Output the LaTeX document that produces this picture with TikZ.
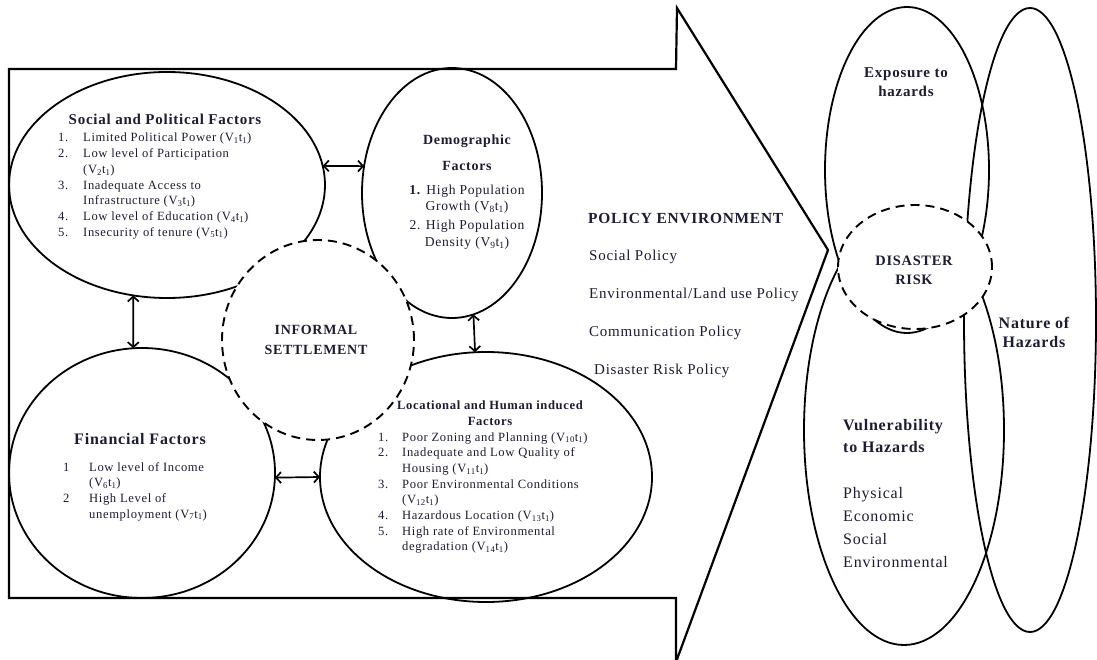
\documentclass[tikz,border=0pt]{standalone}
\usepackage{fontspec}
\setmainfont{Liberation Serif}
\newfontfamily\widefont[LetterSpace=5]{Liberation Serif}
\usetikzlibrary{shapes.geometric,arrows.meta,positioning}
\definecolor{ink}{RGB}{28,28,52}
\newcommand{\vt}[1]{(V\textsubscript{#1}t\textsubscript{1})}
\tikzset{
    factor/.style={draw, ellipse, line width=1.8pt, inner sep=0pt, outer sep=0pt},
    core/.style={draw, ellipse, line width=1.9pt, dash pattern=on 9pt off 6pt,
        fill=white, inner sep=0pt, outer sep=0pt},
    head/.style={text=ink, align=center, inner sep=0pt,
        font=\widefont\bfseries\fontsize{14}{16}\selectfont},
    items/.style={text=ink, anchor=base west, inner sep=0pt,
        font=\widefont\fontsize{12.6}{15.7}\selectfont},
    policy/.style={text=ink, anchor=west, inner sep=0pt,
        font=\widefont\fontsize{15}{17}\selectfont},
    link/.style={<->, line width=1.7pt}
}
\begin{document}
\begin{tikzpicture}[x=1pt, y=-1pt, >={Straight Barb[length=5pt,width=11pt]}]
    \clip (0,0) rectangle (1097,660);
    \fill[white] (0,0) rectangle (1097,660);

    % big arrow
    \draw[line width=2.2pt, line join=miter]
        (9,69) -- (676,69) -- (677,8) -- (828,250) -- (676,662)
        -- (676,598) -- (9,598) -- cycle;

    % right side
    \node[factor, minimum width=164pt, minimum height=326pt] (expo) at (907,170) {};
    \node[factor, minimum width=132pt, minimum height=624pt] (nat) at (1030,320) {};
    \node[factor, minimum width=200pt, minimum height=430pt] (vuln) at (904,430) {};
    \node[core, minimum width=154pt, minimum height=124pt] (risk) at (915,267) {};

    % left side
    \node[factor, minimum width=316pt, minimum height=226pt] (soc) at (167,185) {};
    \node[factor, minimum width=180pt, minimum height=250pt] (dem) at (452,193) {};
    \node[factor, minimum width=266pt, minimum height=250pt] (fin) at (142,473) {};
    \node[factor, minimum width=332pt, minimum height=250pt] (loc) at (486,477) {};
    \node[core, minimum width=192pt, minimum height=200pt] (inf) at (318,340) {};

    \draw[link] (soc.7) -- (dem.163);
    \draw[link] (soc.253) -- (fin.94);
    \draw[link] (dem.280) -- (loc.95);
    \draw[link] (fin.-2) -- (loc.180);

    % texts
    \node[head, font=\widefont\bfseries\fontsize{15}{17}\selectfont] (socT) at (165,119)
        {Social and Political Factors};
    \node[items] (socL) at (58,142) {\begin{tabular}[t]{@{}p{25pt}@{}l@{}}
        1. & Limited Political Power \vt{1}\\
        2. & Low level of Participation\\
           & \vt{2}\\
        3. & Inadequate Access to\\
           & Infrastructure \vt{3}\\
        4. & Low level of Education \vt{4}\\
        5. & Insecurity of tenure \vt{5}
    \end{tabular}};

    \node[head] (demT) at (467,153) {Demographic\\[10pt]Factors};
    \node[head, font=\widefont\fontsize{13.6}{16.5}\selectfont] (demL) at (467,217)
        {\textbf{1.} High Population\\Growth \vt{8}\\[2.5pt]2. High Population\\Density \vt{9}};

    \node[head, font=\widefont\bfseries\fontsize{14}{20}\selectfont] (infT) at (316,340)
        {INFORMAL\\SETTLEMENT};

    \node[head, font=\widefont\bfseries\fontsize{16}{18}\selectfont] (finT) at (140,439)
        {Financial Factors};
    \node[items] (finL) at (63,471) {\begin{tabular}[t]{@{}p{26pt}@{}l@{}}
        1 & Low level of Income\\
          & \vt{6}\\
        2 & High Level of\\
          & unemployment \vt{7}
    \end{tabular}};

    \node[head, font=\widefont\bfseries\fontsize{12.6}{16}\selectfont] (locT) at (490,413)
        {Locational and Human induced\\Factors};
    \node[items] (locL) at (378,441) {\begin{tabular}[t]{@{}p{24pt}@{}l@{}}
        1. & Poor Zoning and Planning \vt{10}\\
        2. & Inadequate and Low Quality of\\
           & Housing \vt{11}\\
        3. & Poor Environmental Conditions\\
           & \vt{12}\\
        4. & Hazardous Location \vt{13}\\
        5. & High rate of Environmental\\
           & degradation \vt{14}
    \end{tabular}};

    % policy environment
    \node[head, anchor=west, font=\widefont\bfseries\fontsize{15.4}{17}\selectfont] (pol) at (588,219)
        {POLICY ENVIRONMENT};
    \node[policy] (pol1) at (589,257) {Social Policy};
    \node[policy] (pol2) at (589,295) {Environmental/Land use Policy};
    \node[policy] (pol3) at (589,333) {Communication Policy};
    \node[policy] (pol4) at (594,371) {Disaster Risk Policy};

    % disaster risk side
    \node[head, font=\widefont\bfseries\fontsize{15}{19}\selectfont] (expoT) at (906,82) {Exposure to\\hazards};
    \node[head, font=\widefont\bfseries\fontsize{14.4}{19}\selectfont] (riskT) at (914,270) {DISASTER\\RISK};
    \node[head, font=\widefont\bfseries\fontsize{16}{19}\selectfont] (natT) at (1034,332) {Nature of\\Hazards};
    \node[head, anchor=west, align=left, font=\widefont\bfseries\fontsize{16}{22}\selectfont] (vulnT) at (843,436)
        {Vulnerability\\to Hazards};
    \node[head, anchor=west, align=left, font=\widefont\fontsize{16}{23}\selectfont] (vulnL) at (843,528)
        {Physical\\Economic\\Social\\Environmental};
\end{tikzpicture}
\end{document}
